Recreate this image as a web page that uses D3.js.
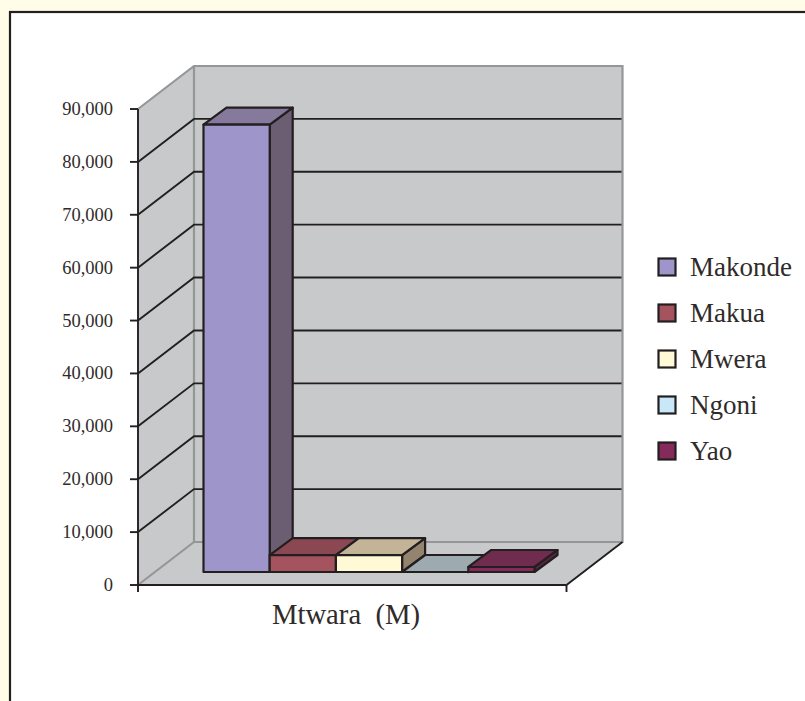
<!DOCTYPE html>
<html><head><meta charset="utf-8">
<script src="https://cdn.jsdelivr.net/npm/d3@7/dist/d3.min.js"></script>
<style>html,body{margin:0;padding:0;background:#fffde8;overflow:hidden}svg{display:block}text{font-family:"Liberation Serif",serif;fill:#2f2b2a}</style>
</head><body><svg id="c" width="805" height="701"></svg>
<script>
const categories = ["Makonde","Makua","Mwera","Ngoni","Yao"];
const values = [84600,3200,3200,0,950];
const frontColors = ["#9e96ca","#a5535f","#fff9d6","#c8e8f8","#862a5c"];
const topColors = ["#857a9b","#8b4853","#c3b498","#9daab0","#702c4e"];
const sideColors = ["#6c5e72","#6c3f45","#93846f","#7c878c","#5e2442"];
const tickValues = [0,10000,20000,30000,40000,50000,60000,70000,80000,90000];
const groupLabel = "Mtwara  (M)";

const svg = d3.select("#c");
const ink = "#231f20", wall = "#c8c9cb", wallEdge = "#959698";
const y = d3.scaleLinear().domain([0,90000]).range([585,109]);
const floorX = d3.scaleLinear().domain([0,1]).range([138,566.5]);
const dx = 56, dy = -43;           // full depth of the box
const barDx = 23, barDy = -17;     // depth of a bar
const barLift = 13;                // bars stand inside the floor
const x = d3.scaleBand().domain(categories).range([203.5,534.5]).padding(0);
const poly = (pts)=>pts.map(p=>p.join(",")).join(" ");

svg.append("rect").attr("x",10).attr("y",12).attr("width",900).attr("height",800)
  .attr("fill","#fff").attr("stroke",ink).attr("stroke-width",2.2);

const x0=floorX(0), x1=floorX(1), y0=y(0), yT=y(90000);
svg.append("polygon").attr("points",poly([[x0,y0],[x0+dx,y0+dy],[x0+dx,yT+dy],[x0,yT]])).attr("fill",wall);
svg.append("polygon").attr("points",poly([[x0+dx,y0+dy],[x1+dx,y0+dy],[x1+dx,yT+dy],[x0+dx,yT+dy]])).attr("fill",wall);
svg.append("polygon").attr("points",poly([[x0,y0],[x1,y0],[x1+dx,y0+dy],[x0+dx,y0+dy]])).attr("fill",wall);
svg.append("polyline").attr("fill","none").attr("stroke",wallEdge).attr("stroke-width",2.2)
  .attr("points",poly([[x0,yT],[x0+dx,yT+dy],[x1+dx,yT+dy],[x1+dx,y0+dy],[x0+dx,y0+dy],[x0,y0]]));
svg.append("line").attr("x1",x0+dx).attr("x2",x0+dx).attr("y1",yT+dy).attr("y2",y0+dy).attr("stroke",wallEdge).attr("stroke-width",2.2);
tickValues.filter(v=>v>0&&v<90000).forEach(v=>{
  svg.append("polyline").attr("fill","none").attr("stroke",ink).attr("stroke-width",1.9)
    .attr("points",poly([[x0,y(v)],[x0+dx,y(v)+dy],[x1+dx-1,y(v)+dy]]));
});
svg.append("line").attr("x1",x0).attr("x2",x0).attr("y1",yT).attr("y2",y0).attr("stroke",ink).attr("stroke-width",1.9);
svg.append("line").attr("x1",x0).attr("x2",x1).attr("y1",y0).attr("y2",y0).attr("stroke",ink).attr("stroke-width",1.9);
svg.append("polyline").attr("fill","none").attr("stroke",ink).attr("stroke-width",1.9).attr("points",poly([[x1,y0],[x1+dx,y0+dy]]));
svg.selectAll(".xt").data([x0,x1]).join("line").attr("x1",d=>d).attr("x2",d=>d).attr("y1",y0).attr("y2",y0+7).attr("stroke",ink).attr("stroke-width",1.9);
svg.selectAll(".yt").data(tickValues).join("line").attr("x1",x0-8).attr("x2",x0).attr("y1",d=>y(d)).attr("y2",d=>y(d)).attr("stroke",ink).attr("stroke-width",1.9);
svg.selectAll(".yl").data(tickValues).join("text").attr("x",x0-25).attr("y",d=>y(d)+6)
  .attr("text-anchor","end").attr("font-size",18.5).text(d=>d3.format(",")(d));
const base = y0-barLift;
const h = v => y(0)-y(v);
categories.forEach((c,i)=>{
  const l=x(c), r=l+x.bandwidth(), t=base-h(values[i]);
  const g=svg.append("g").attr("stroke",ink).attr("stroke-width",2.2).attr("stroke-linejoin","round");
  g.append("polygon").attr("fill",sideColors[i]).attr("points",poly([[r,base],[r+barDx,base+barDy],[r+barDx,t+barDy],[r,t]]));
  g.append("polygon").attr("fill",topColors[i]).attr("points",poly([[l,t],[r,t],[r+barDx,t+barDy],[l+barDx,t+barDy]]));
  if(values[i]>0) g.append("rect").attr("x",l).attr("y",t).attr("width",x.bandwidth()).attr("height",h(values[i])).attr("fill",frontColors[i]);
});
svg.append("text").attr("x",346).attr("y",624).attr("text-anchor","middle").attr("font-size",28.7).style("white-space","pre").text(groupLabel);
const ly = d3.scalePoint().domain(categories).range([267,451]);
categories.forEach((c,i)=>{
  svg.append("rect").attr("x",658.5).attr("y",ly(c)-8.5).attr("width",17).attr("height",17).attr("fill",frontColors[i]).attr("stroke",ink).attr("stroke-width",2.2);
  svg.append("text").attr("x",690).attr("y",ly(c)+9).attr("font-size",27).text(c);
});
</script></body></html>
